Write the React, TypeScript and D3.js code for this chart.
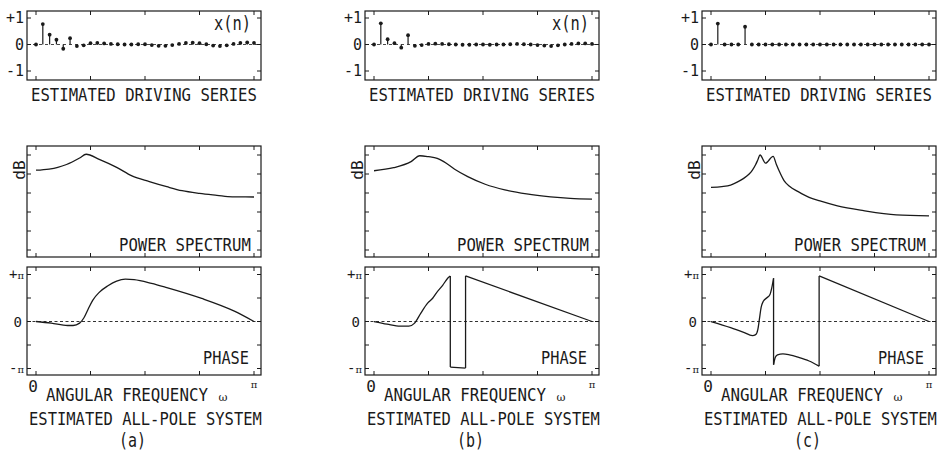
import { useEffect, useRef } from 'react'
import * as d3 from 'd3'

// estimated driving series x(n), n = 0..32
const drivingA = [0, 0.77, 0.37, 0.18, -0.16, 0.24, -0.06, -0.03, 0.05, 0.06, 0.04, 0.02, 0.01, 0, 0, 0.01, 0.01, -0.02, -0.05, -0.05, -0.02, 0.02, 0.06, 0.07, 0.05, 0.01, -0.04, -0.06, -0.03, 0.02, 0.06, 0.08, 0.06]
const drivingB = [0, 0.8, 0.2, 0.05, -0.12, 0.35, -0.05, -0.02, 0.02, 0.03, 0.02, 0.01, 0, -0.01, -0.01, 0, 0, -0.01, 0, 0, 0.01, 0.02, 0.01, 0, -0.02, -0.04, -0.06, -0.03, 0, 0.02, 0.04, 0.04, 0.02]
const drivingC = [0, 0.79, 0, 0, 0, 0.67, 0, 0, 0, 0, 0, 0, 0, 0, 0, 0, 0, 0, 0, 0, 0, 0, 0, 0, 0, 0, 0, 0, 0, 0, 0, 0, 0]

// power spectrum: [omega / pi, dB]
const powerA: [number, number][] = [[0, -8], [0.06, -7.4], [0.1, -6.5], [0.14, -5], [0.2, -1.6], [0.23, 0.4], [0.29, -2.3], [0.37, -6.5], [0.44, -11], [0.52, -14], [0.6, -16.7], [0.67, -18.8], [0.75, -20.2], [0.83, -21.2], [0.9, -22], [1, -22.1]]
const powerB: [number, number][] = [[0, -8.3], [0.09, -6.7], [0.17, -3.5], [0.21, -0.4], [0.25, -0.9], [0.29, -1.8], [0.32, -3.5], [0.37, -7.5], [0.43, -11.4], [0.51, -15.4], [0.6, -18.4], [0.7, -20.5], [0.81, -22], [0.9, -22.8], [1, -23.2]]
const powerC: [number, number][] = [[0, -17], [0.05, -16.6], [0.09, -15.8], [0.12, -14.3], [0.15, -12.3], [0.175, -10], [0.19, -7.9], [0.205, -5], [0.215, -2.5], [0.225, 0], [0.25, -4.3], [0.285, -0.7], [0.3, -5], [0.315, -9], [0.335, -13.5], [0.36, -16.5], [0.4, -19.3], [0.45, -22.3], [0.5, -24.2], [0.58, -26.8], [0.7, -29.3], [0.85, -31.5], [1, -32]]

// phase: segments of [omega / pi, phase / pi], joined by vertical jumps
const phaseA: [number, number][][] = [
  [[0, 0], [0.07, -0.035], [0.145, -0.085], [0.17, -0.085], [0.2, -0.035], [0.22, 0.08], [0.24, 0.27], [0.26, 0.45], [0.29, 0.62], [0.33, 0.76], [0.37, 0.86], [0.41, 0.9], [0.45, 0.89], [0.53, 0.81], [0.6, 0.72], [0.76, 0.49], [0.91, 0.22], [1, 0]],
]
const phaseB: [number, number][][] = [
  [[0, 0], [0.06, -0.056], [0.12, -0.1], [0.16, -0.1], [0.185, -0.04], [0.215, 0.18], [0.246, 0.39], [0.27, 0.5], [0.285, 0.6], [0.315, 0.77], [0.34, 0.93], [0.35, 0.97]],
  [[0.35, -0.97], [0.42, -0.99]],
  [[0.42, 0.97], [1, 0]],
]
const phaseC: [number, number][][] = [
  [[0, 0], [0.09, -0.13], [0.15, -0.23], [0.19, -0.3], [0.205, -0.28], [0.215, -0.17], [0.222, 0.05], [0.23, 0.3], [0.24, 0.43], [0.255, 0.5], [0.27, 0.57], [0.278, 0.7], [0.287, 0.92]],
  [[0.287, -0.92], [0.295, -0.76], [0.305, -0.71], [0.33, -0.69], [0.36, -0.71], [0.4, -0.76], [0.45, -0.84], [0.496, -0.95]],
  [[0.496, 0.97], [1, 0]],
]

const panelNames = ['(a)', '(b)', '(c)']
const nTicks = [0, 8, 16, 24, 32]
const omegaTicks = [0, 0.25, 0.5, 0.75, 1]
const dbTicks = [0, -10, -20, -30, -40, -50]
const phaseTicks = [1, 0.5, 0, -0.5, -1]
const drivingTickLabels: [string, number][] = [['+1', 1], ['0', 0], ['-1', -1]]

const INK = '#1a1a1a'
const FONT = '"DejaVu Sans Mono", monospace'

const App = () => {
  const svgRef = useRef<SVGSVGElement>(null)

  useEffect(() => {
    const svg = d3.select(svgRef.current)
    svg.selectAll('*').remove()
    svg.attr('font-family', FONT).attr('fill', INK)

    const panels = [
      { name: panelNames[0], left: 27, driving: drivingA, power: powerA, phase: phaseA, xn: true },
      { name: panelNames[1], left: 365, driving: drivingB, power: powerB, phase: phaseB, xn: true },
      { name: panelNames[2], left: 702, driving: drivingC, power: powerC, phase: phaseC, xn: false },
    ]

    // box with inward ticks on all sides
    const frame = (g, x0, x1, y0, y1, xs: number[], ys: number[]) => {
      g.append('rect')
        .attr('x', x0).attr('y', y0)
        .attr('width', x1 - x0).attr('height', y1 - y0)
        .attr('fill', 'none').attr('stroke', INK).attr('stroke-width', 1.2)
      const t = g.append('g').attr('stroke', INK).attr('stroke-width', 1)
      xs.forEach(x => {
        t.append('line').attr('x1', x).attr('x2', x).attr('y1', y0).attr('y2', y0 + 4)
        t.append('line').attr('x1', x).attr('x2', x).attr('y1', y1).attr('y2', y1 - 4)
      })
      ys.forEach(y => {
        t.append('line').attr('x1', x0).attr('x2', x0 + 4).attr('y1', y).attr('y2', y)
        t.append('line').attr('x1', x1).attr('x2', x1 - 4).attr('y1', y).attr('y2', y)
      })
    }

    const label = (g, text: string, x: number, y: number, size: number, anchor = 'start') =>
      g.append('text')
        .attr('x', x).attr('y', y)
        .attr('font-size', size)
        .attr('text-anchor', anchor)
        .text(text)

    // narrow, tall plotter-style caption: width sets font size, cap height sets vertical stretch
    const caption = (g, text: string, x: number, baseline: number, width: number, cap = 13) => {
      const fs = width / (text.length * 0.602)
      const sy = cap / (0.729 * fs)
      return g.append('text')
        .attr('transform', `translate(${x},${baseline}) scale(1,${sy.toFixed(3)})`)
        .attr('font-size', fs.toFixed(2))
        .text(text)
    }

    const piLabel = (g, sign: string, x: number, y: number) => {
      const t = g.append('text').attr('x', x).attr('y', y).attr('text-anchor', 'end').attr('font-size', 14)
      t.append('tspan').text(sign)
      t.append('tspan').attr('font-size', 10).attr('font-family', '"DejaVu Serif", serif').text('π')
    }

    panels.forEach(p => {
      const g = svg.append('g')
      const L = p.left
      const R = L + 234

      // shared omega / n scales
      const x = d3.scaleLinear().domain([0, 1]).range([L + 9, L + 227])
      const xn = d3.scaleLinear().domain([0, 32]).range([L + 9, L + 227])

      // ---- driving series
      const yd = d3.scaleLinear().domain([-1, 1]).range([71, 18])
      frame(g, L, R, 11, 80, nTicks.map(n => xn(n)), [1, 0, -1].map(v => yd(v)))
      g.append('line')
        .attr('x1', L).attr('x2', R).attr('y1', yd(0)).attr('y2', yd(0))
        .attr('stroke', INK).attr('stroke-width', 0.8).attr('stroke-dasharray', '3,3')
      g.append('g').attr('stroke', INK).attr('stroke-width', 1.2)
        .selectAll('line')
        .data(p.driving)
        .join('line')
          .attr('x1', (d, i) => xn(i)).attr('x2', (d, i) => xn(i))
          .attr('y1', yd(0)).attr('y2', d => yd(d))
      g.append('g')
        .selectAll('circle')
        .data(p.driving)
        .join('circle')
          .attr('cx', (d, i) => xn(i)).attr('cy', d => yd(d))
          .attr('r', 1.9)
      drivingTickLabels.forEach(([t, v]) => label(g, t, L - 3, yd(v) + 5, 15, 'end'))
      if (p.xn) caption(g, 'x(n)', L + 187, 30, 37, 14)
      caption(g, 'ESTIMATED DRIVING SERIES', L + 4, 101, 226)

      // ---- power spectrum
      const yp = d3.scaleLinear().domain([-50, 0]).range([250, 155])
      frame(g, L, R, 146, 257, omegaTicks.map(o => x(o)), dbTicks.map(v => yp(v)))
      const powerLine = d3.line<[number, number]>()
        .x(d => x(d[0])).y(d => yp(d[1]))
        .curve(d3.curveMonotoneX)
      g.append('path')
        .attr('d', powerLine(p.power))
        .attr('fill', 'none').attr('stroke', INK).attr('stroke-width', 1.3)
      label(g, 'dB', 0, 0, 16, 'middle').attr('transform', `translate(${L - 2},170) rotate(-90)`)
      caption(g, 'POWER SPECTRUM', L + 92, 251, 132)

      // ---- phase
      const yph = d3.scaleLinear().domain([-1, 1]).range([368.5, 274.5])
      frame(g, L, R, 267, 375, omegaTicks.map(o => x(o)), phaseTicks.map(v => yph(v)))
      g.append('line')
        .attr('x1', L).attr('x2', R).attr('y1', yph(0)).attr('y2', yph(0))
        .attr('stroke', INK).attr('stroke-width', 0.9).attr('stroke-dasharray', '3,2.5')
      const phaseLine = d3.line<[number, number]>()
        .x(d => x(d[0])).y(d => yph(d[1]))
        .curve(d3.curveMonotoneX)
      p.phase.forEach((seg, i) => {
        g.append('path')
          .attr('d', phaseLine(seg))
          .attr('fill', 'none').attr('stroke', INK).attr('stroke-width', 1.3)
        const next = p.phase[i + 1]
        if (next) {
          const a = seg[seg.length - 1]
          const b = next[0]
          g.append('line')
            .attr('x1', x(a[0])).attr('y1', yph(a[1]))
            .attr('x2', x(b[0])).attr('y2', yph(b[1]))
            .attr('stroke', INK).attr('stroke-width', 1.3)
        }
      })
      caption(g, 'PHASE', L + 176, 364, 46)
      piLabel(g, '+', L - 3, yph(1) + 4)
      label(g, '0', L - 5, yph(0) + 5, 14, 'end')
      piLabel(g, '-', L - 3, yph(-1) + 4)

      // ---- axis captions
      label(g, '0', L + 6, 392, 16, 'middle')
      label(g, 'π', x(1), 388, 10, 'middle').attr('font-family', '"DejaVu Serif", serif')
      caption(g, 'ANGULAR FREQUENCY', L + 19, 401, 162)
      label(g, 'ω', L + 196, 401, 11, 'middle').attr('font-family', '"DejaVu Serif", serif')
      caption(g, 'ESTIMATED ALL-POLE SYSTEM', L + 2, 425, 233)
      caption(g, p.name, L + 92, 447, 27, 14)
    })
  }, [])

  return (
    <svg
      ref={svgRef}
      width={937}
      height={452}
      style={{ position: 'absolute', left: 0, top: 0, background: '#fff' }}
    />
  )
}

export default App
